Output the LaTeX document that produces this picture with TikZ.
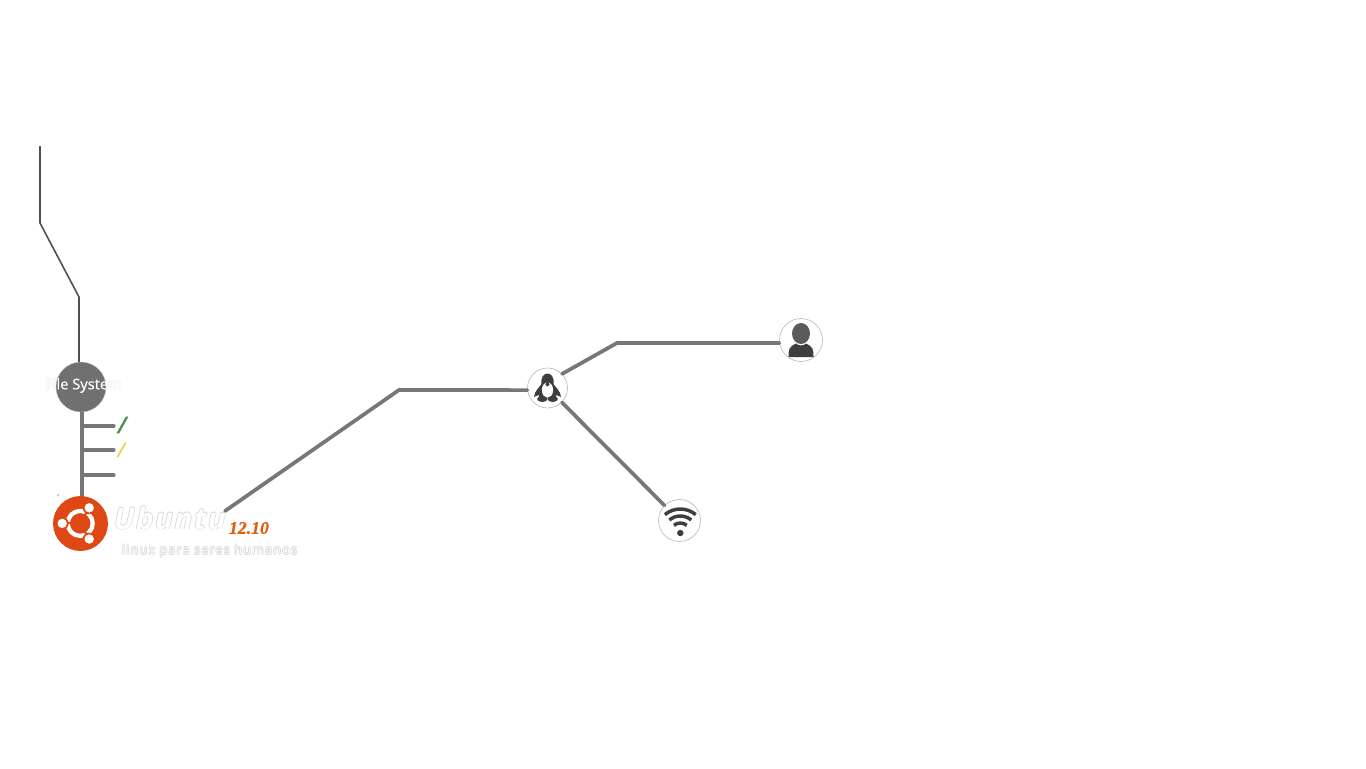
\documentclass[tikz,border=0pt]{standalone}
\usepackage{fontspec}
\setmainfont{Open Sans}
\newfontfamily\serifbi{Liberation Serif}
\newfontfamily\wideub[LetterSpace=5]{Open Sans}
\newfontfamily\widesub[LetterSpace=9]{Open Sans}
\definecolor{wire}{HTML}{777777}
\definecolor{thin}{HTML}{505050}
\definecolor{disc}{HTML}{707070}
\definecolor{ubu}{HTML}{DD4814}
\definecolor{ico}{HTML}{3E3E3E}
\definecolor{rim}{HTML}{BDBDBD}
\definecolor{ghost}{HTML}{D4D4D4}
\definecolor{paleghost}{HTML}{EEEEEE}
\definecolor{slashgreen}{HTML}{4F8F4F}
\definecolor{slashyellow}{HTML}{EBD24B}
\definecolor{verorange}{HTML}{E0600F}
\tikzset{
  wireline/.style={draw=wire,line width=2.8pt,line cap=round,line join=round},
  tickline/.style={draw=wire,line width=2.3pt,line cap=round},
  thinline/.style={draw=thin,line width=1.2pt,line join=round},
  iconring/.style={circle,draw=rim,line width=0.5pt,fill=white,inner sep=0pt,minimum size=#1},
  plain/.style={inner sep=0pt,outer sep=0pt},
}
\newcommand{\outlined}[5]{% name, x, y, font, text
  \foreach \dx/\dy in {-.7/0,.7/0,0/-.7,0/.7}
    \node[plain,text=ghost,anchor=west] at (#2+\dx,#3+\dy) {#4#5};
  \node[plain,text=white,anchor=west] (#1) at (#2,#3) {#4#5};
}
\begin{document}
\begin{tikzpicture}[x=0.75pt,y=-0.75pt]
\useasboundingbox (0,0) rectangle (1366,768);
% thin line
\coordinate (t0) at (40,146);
\coordinate (t1) at (40,223);
\coordinate (t2) at (79,297);
\coordinate (t3) at (79,364);
\draw[thinline] (t0) -- (t1) -- (t2) -- (t3);
% file system disc
\foreach \dx/\dy in {-.6/0,.6/0,0/-.6,0/.6}
  \node[plain,text=paleghost] at (83.5+\dx,385.5+\dy) {\fontsize{11}{12}\selectfont\addfontfeature{FakeBold=0.4}File System};
\node[circle,fill=disc,draw=rim,line width=0.3pt,inner sep=0pt,minimum size=37.5pt] (fs) at (81,387) {};
\node[plain,text=white] (fslabel) at (83.5,385.5) {\fontsize{11}{12}\selectfont\addfontfeature{FakeBold=0.4}File System};
% tree
\coordinate (stemend) at (82,497);
\coordinate (b1) at (82,426); \coordinate (b2) at (82,450); \coordinate (b3) at (82,475);
\coordinate (e1) at (114,426); \coordinate (e2) at (114,450); \coordinate (e3) at (114,475);
\draw[draw=wire,line width=3pt] (82,412) -- (stemend);
\draw[tickline] (b1) -- (e1);
\draw[tickline] (b2) -- (e2);
\draw[tickline] (b3) -- (e3);
\node[plain,text=slashgreen] (slash1) at (122,425) {\fontsize{17}{17}\selectfont\addfontfeature{FakeBold=2.5}\itshape /};
\node[plain,text=slashyellow] (slash2) at (121,450) {\fontsize{15}{15}\selectfont\addfontfeature{FakeBold=1}\itshape /};
\fill[gray!80] (58,495) circle (0.6pt);
% ubuntu logo
\node[circle,fill=ubu,inner sep=0pt,minimum size=41.2pt] (logo) at (80.5,523.5) {};
\begin{scope}[shift={(80.2,523.4)}]
  \draw[white,line width=3.2pt] (0,0) circle (12.5);
  \foreach \a in {60,180,300} {
    \draw[ubu,line width=1.6pt] (0,0) -- (\a:19);
    \fill[ubu] (\a:18) circle (6.4);
    \fill[white] (\a:18) circle (4.7);
  }
\end{scope}
% ubuntu texts
\outlined{ubtext}{114}{518}{\fontsize{22.3}{23}\selectfont\wideub\bfseries\itshape}{Ubuntu}
\node[plain,text=verorange,anchor=west] (ver) at (229,528) {\fontsize{13.3}{14}\selectfont\serifbi\addfontfeature{FakeBold=0.5}\bfseries\itshape 12.10};
\outlined{subtext}{122}{551}{\fontsize{9.5}{10}\selectfont\widesub}{linux para seres humanos}
% icons
\node[iconring=30pt] (tux) at (547.5,388) {};
\node[iconring=32.2pt] (user) at (801,340) {};
\node[iconring=31.5pt] (wifi) at (679.5,520.5) {};
% connectors
\coordinate (uend) at (225,511);
\coordinate (k1) at (399,390);
\coordinate (k2) at (617,343);
\draw[wireline] (uend) -- (k1) -- (tux.186);
\draw[wireline] (tux.44) -- (k2) -- (user.188);
\draw[wireline] (tux) -- (wifi);
% tux glyph
\begin{scope}[shift={(547.5,388)}]
  \fill[ico] (-6,-4) .. controls (-8,-18) and (8,-18) .. (6,-4)
     .. controls (8,-1) and (13,3) .. (13.5,9) -- (9,7) -- (8,10) -- (-8,10) -- (-9,7) -- (-13.5,9)
     .. controls (-13,3) and (-8,-1) .. (-6,-4) -- cycle;
  \fill[white] (0,2) ellipse (5.6 and 7.6);
  \fill[ico] (0,-7) -- (2.2,-3.6) -- (0,-1.5) -- (-2.2,-3.6) -- cycle;
  \fill[ico] (-5.2,11) ellipse (5.2 and 3);
  \fill[ico] (5.2,11) ellipse (5.2 and 3);
\end{scope}
% user glyph
\begin{scope}[shift={(801,340)}]
  \fill[ico!85!white] (0,-6.5) ellipse (9 and 10.5);
  \fill[ico] (-12.5,17) .. controls (-12.5,9) and (-12,7) .. (-5,3.5)
     .. controls (-3,6) and (3,6) .. (5,3.5)
     .. controls (12,7) and (12.5,9) .. (12.5,17) -- cycle;
\end{scope}
% wifi glyph
\begin{scope}[shift={(680.3,533)}]
  \fill[ico] (0,0) circle (3.2);
  \draw[ico,line width=2.6pt] (-130:10) arc[start angle=-130,end angle=-50,radius=10];
  \draw[ico,line width=2.6pt] (-130:17) arc[start angle=-130,end angle=-50,radius=17];
  \draw[ico,line width=2.6pt] (-130:24) arc[start angle=-130,end angle=-50,radius=24];
\end{scope}
\end{tikzpicture}
\end{document}
